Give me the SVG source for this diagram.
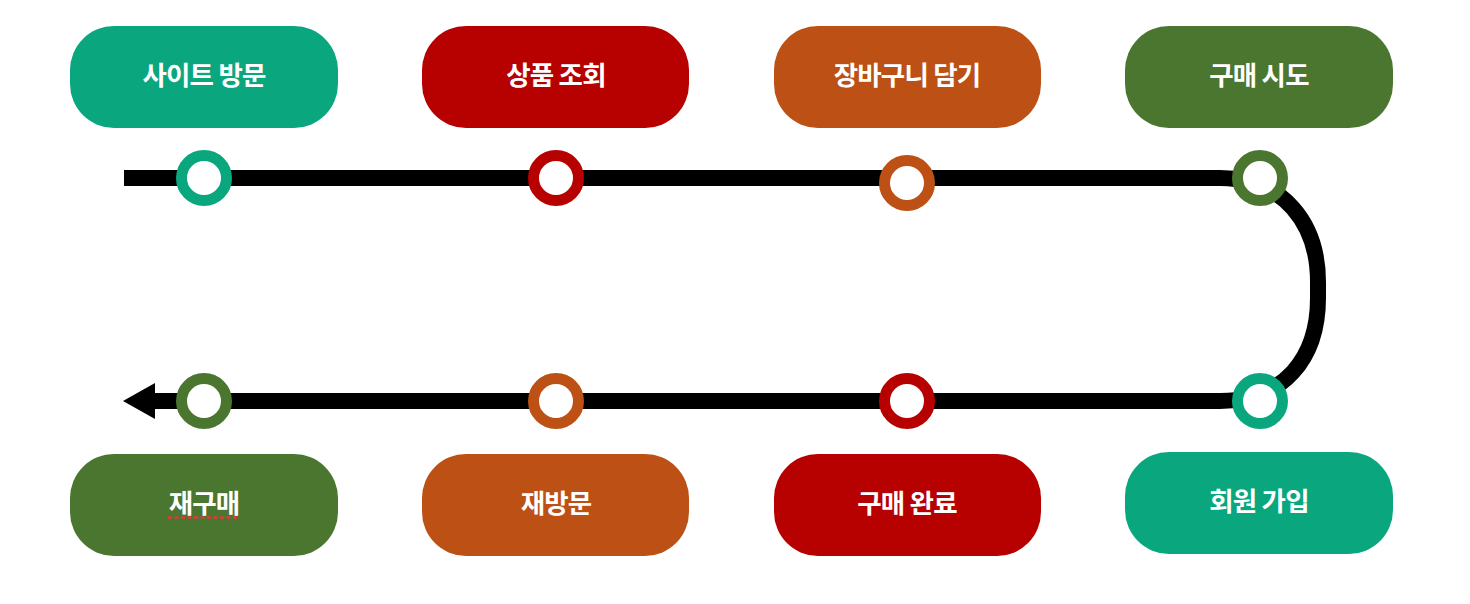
<svg xmlns="http://www.w3.org/2000/svg" width="1470" height="604" viewBox="0 0 1470 604">
<style>
.lbl{font-family:"Noto Sans CJK KR","Noto Sans",sans-serif;font-weight:700;font-size:26.5px;fill:#fff;text-anchor:middle;dominant-baseline:central;letter-spacing:-0.8px}
.st{fill:#fff;stroke-width:11}
.teal{fill:#0aa77f}.red{fill:#b70000}.orange{fill:#bd5014}.green{fill:#4b7630}
.cteal{stroke:#0aa77f}.cred{stroke:#b70000}.corange{stroke:#bd5014}.cgreen{stroke:#4b7630}
</style>
<g id="connectors">
<path d="M124,178 H1220 C1284,178 1318,224 1318,282 V298 C1318,358 1284,401 1220,401 H150" fill="none" stroke="#000" stroke-width="16"/>
<path d="M155,383 L123,401 L155,419 Z" fill="#000"/>
</g>
<g id="stations">
<circle cx="204" cy="178" r="22.5" class="st cteal"/>
<circle cx="556" cy="178" r="22.5" class="st cred"/>
<circle cx="907" cy="183" r="22.5" class="st corange"/>
<circle cx="1260" cy="178" r="22.5" class="st cgreen"/>
<circle cx="204" cy="401" r="22.5" class="st cgreen"/>
<circle cx="556" cy="401" r="22.5" class="st corange"/>
<circle cx="907" cy="401" r="22.5" class="st cred"/>
<circle cx="1260" cy="401" r="22.5" class="st cteal"/>
</g>
<g id="n1"><rect x="70" y="26" width="268" height="102" rx="44" class="teal"/><text x="204" y="73.5" class="lbl">사이트 방문</text></g>
<g id="n2"><rect x="422" y="26" width="267" height="102" rx="44" class="red"/><text x="556" y="73.5" class="lbl">상품 조회</text></g>
<g id="n3"><rect x="774" y="26" width="267" height="102" rx="44" class="orange"/><text x="907" y="73.5" class="lbl">장바구니 담기</text></g>
<g id="n4"><rect x="1125" y="26" width="268" height="102" rx="44" class="green"/><text x="1259" y="73.5" class="lbl">구매 시도</text></g>
<g id="n5"><rect x="1125" y="452" width="268" height="102" rx="44" class="teal"/><text x="1259" y="499.5" class="lbl">회원 가입</text></g>
<g id="n6"><rect x="774" y="454" width="267" height="102" rx="44" class="red"/><text x="907" y="501.5" class="lbl">구매 완료</text></g>
<g id="n7"><rect x="422" y="454" width="267" height="102" rx="44" class="orange"/><text x="556" y="501.5" class="lbl">재방문</text></g>
<g id="n8"><rect x="70" y="454" width="268" height="102" rx="44" class="green"/><text x="204" y="501.5" class="lbl">재구매</text>
<line x1="168" y1="517.5" x2="237" y2="517.5" stroke="#e53935" stroke-width="2.5" stroke-dasharray="4,2.5"/></g>
</svg>
